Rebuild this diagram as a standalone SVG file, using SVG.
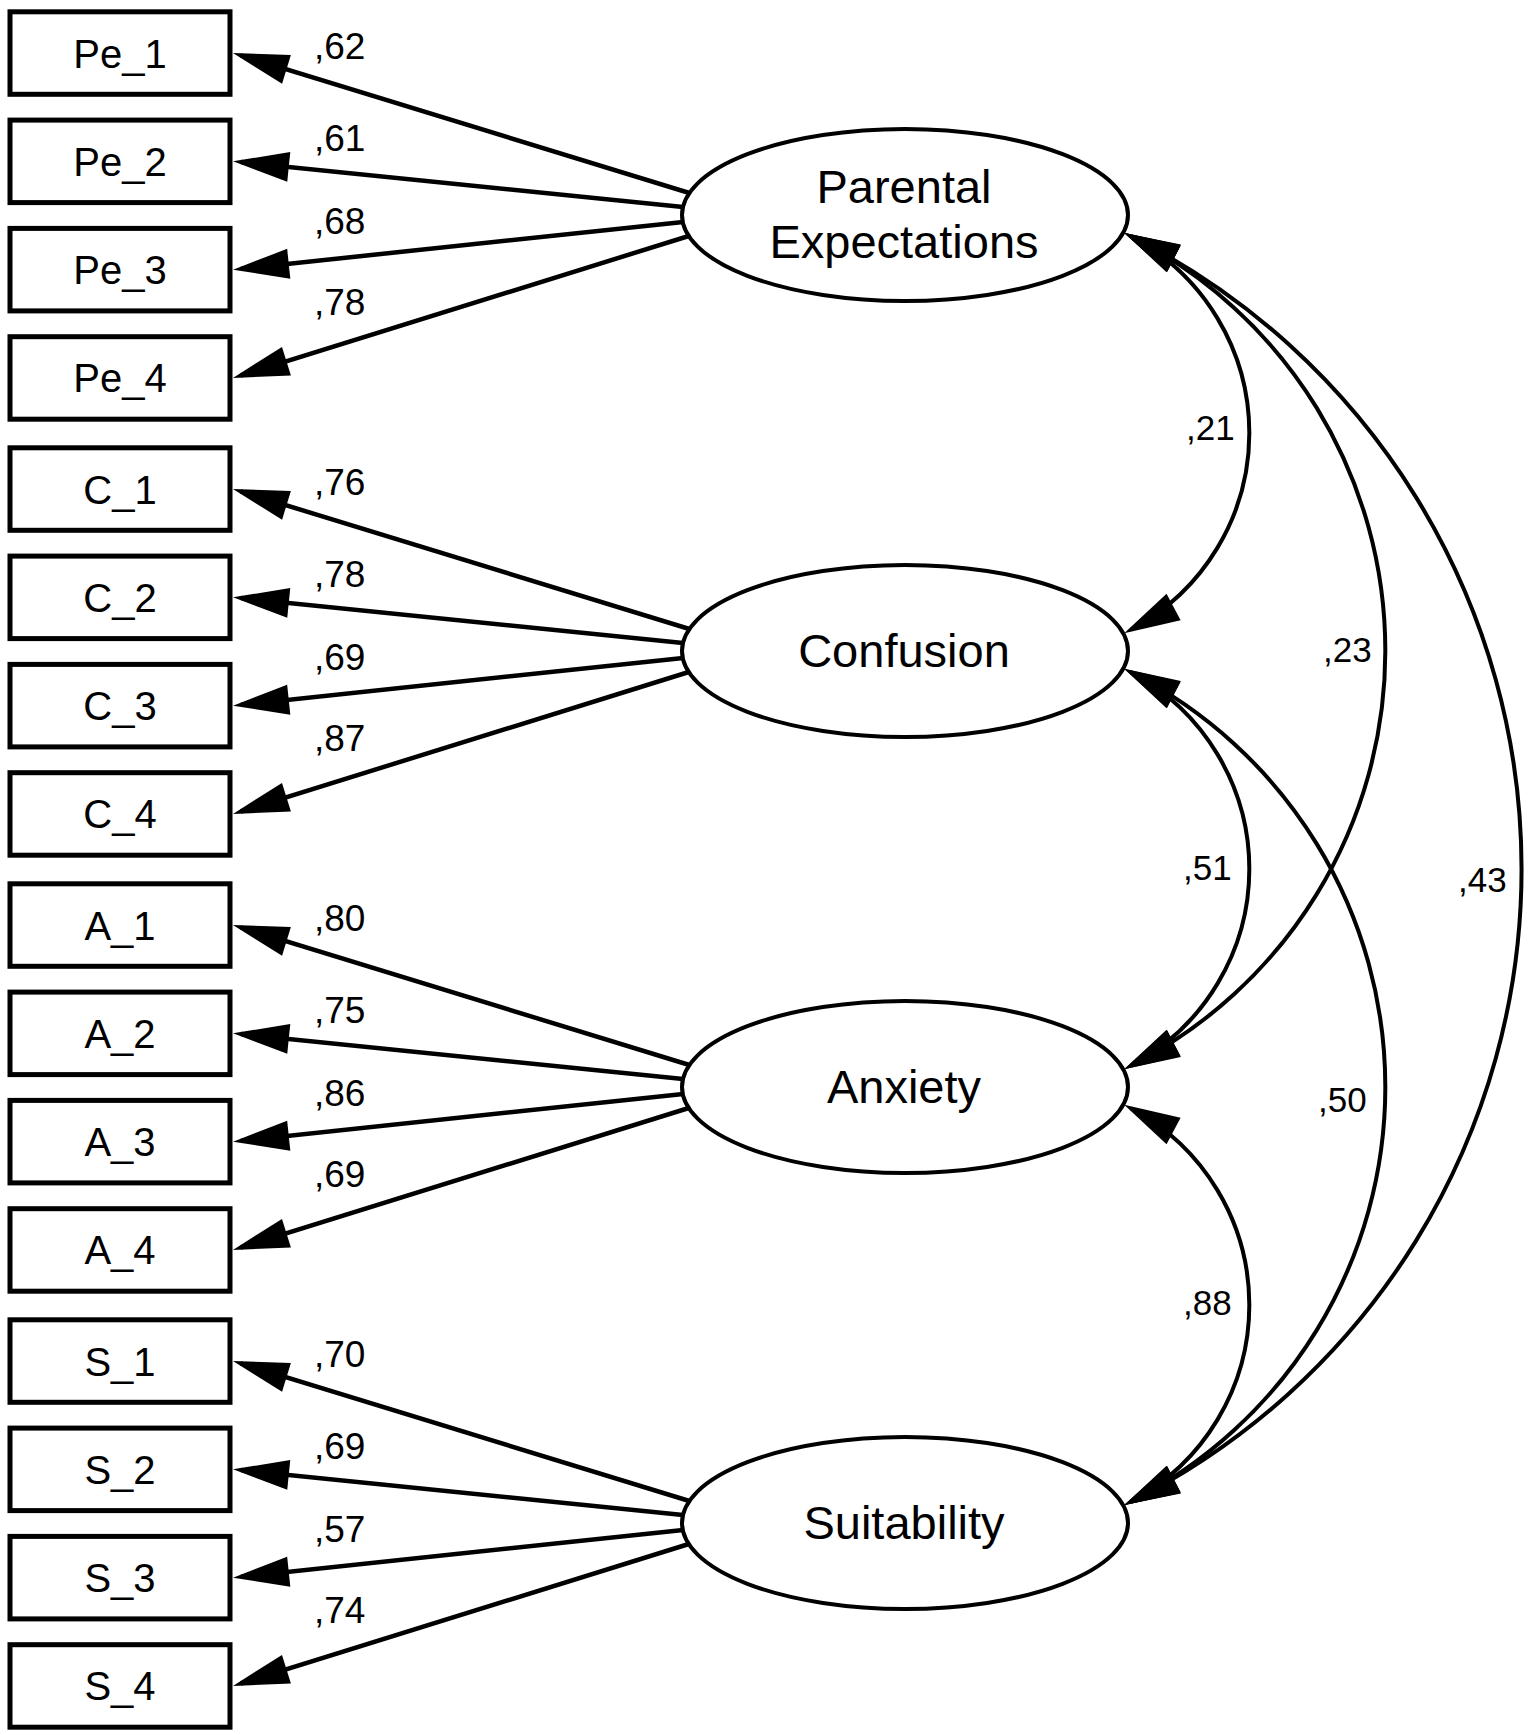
<svg xmlns="http://www.w3.org/2000/svg" width="1535" height="1735" viewBox="0 0 1535 1735">
<style>
  .box { fill:#fff; stroke:#000; stroke-width:5; }
  .lat { fill:#fff; stroke:#000; stroke-width:4; }
  text { font-family:"Liberation Sans", Arial, sans-serif; fill:#000; }
  .bl { font-size:40px; text-anchor:middle; }
  .ll { font-size:47px; text-anchor:middle; }
  .w { font-size:37px; }
  .c { font-size:35px; }
  #connectors path { fill:none; stroke:#000; }
  .ld { stroke-width:4.5; marker-end:url(#ah); }
  .cv { stroke-width:4; marker-start:url(#ah); marker-end:url(#ah); }
</style>
<defs>
  <marker id="ah" markerUnits="userSpaceOnUse" markerWidth="56" markerHeight="30" refX="48" refY="15" orient="auto-start-reverse" overflow="visible">
    <path d="M0,0 L56,15 L0,30 Z" fill="#000"/>
  </marker>
</defs>
<rect width="1535" height="1735" fill="#fff"/>
<g id="connectors">
  <path class="ld" d="M689.4,193 L240.6,55.3"/>
  <path class="ld" d="M683,207 L241,162.1"/>
  <path class="ld" d="M683.2,222 L241,268.8"/>
  <path class="ld" d="M688.8,236 L240.6,375.5"/>
  <path class="ld" d="M689.4,629 L240.6,491.3"/>
  <path class="ld" d="M683,643 L241,598.1"/>
  <path class="ld" d="M683.2,658 L241,704.8"/>
  <path class="ld" d="M688.8,672 L240.6,811.5"/>
  <path class="ld" d="M689.4,1065 L240.6,927.3"/>
  <path class="ld" d="M683,1079 L241,1034.1"/>
  <path class="ld" d="M683.2,1094 L241,1140.8"/>
  <path class="ld" d="M688.8,1108 L240.6,1247.5"/>
  <path class="ld" d="M689.4,1501 L240.6,1363.3"/>
  <path class="ld" d="M683,1515 L241,1470.1"/>
  <path class="ld" d="M683.2,1530 L241,1576.8"/>
  <path class="ld" d="M688.8,1544 L240.6,1683.5"/>
  <path class="cv" d="M1131.2,236.5 A222.5,222.5 0 0 1 1131.2,629.5"/>
  <path class="cv" d="M1131.2,672.5 A222.5,222.5 0 0 1 1131.2,1065.5"/>
  <path class="cv" d="M1131.2,1108.5 A222.5,222.5 0 0 1 1131.2,1501.5"/>
  <path class="cv" d="M1131.2,236.5 A465.1,465.1 0 0 1 1131.2,1065.5"/>
  <path class="cv" d="M1131.2,672.5 A465.1,465.1 0 0 1 1131.2,1501.5"/>
  <path class="cv" d="M1131.2,236.5 A707.6,707.6 0 0 1 1131.2,1501.5"/>
  <text class="w" x="314" y="59">,62</text>
  <text class="w" x="314" y="151">,61</text>
  <text class="w" x="314" y="234">,68</text>
  <text class="w" x="314" y="315">,78</text>
  <text class="w" x="314" y="495">,76</text>
  <text class="w" x="314" y="587">,78</text>
  <text class="w" x="314" y="670">,69</text>
  <text class="w" x="314" y="751">,87</text>
  <text class="w" x="314" y="931">,80</text>
  <text class="w" x="314" y="1023">,75</text>
  <text class="w" x="314" y="1106">,86</text>
  <text class="w" x="314" y="1187">,69</text>
  <text class="w" x="314" y="1367">,70</text>
  <text class="w" x="314" y="1459">,69</text>
  <text class="w" x="314" y="1542">,57</text>
  <text class="w" x="314" y="1623">,74</text>
  <text class="c" x="1186" y="440">,21</text>
  <text class="c" x="1183" y="880">,51</text>
  <text class="c" x="1183" y="1315">,88</text>
  <text class="c" x="1323" y="662">,23</text>
  <text class="c" x="1318" y="1112">,50</text>
  <text class="c" x="1458" y="892">,43</text>
</g>
<g id="Pe_1"><rect class="box" x="10" y="11.8" width="220" height="82.5"/><text class="bl" x="120" y="67.5">Pe_1</text></g>
<g id="Pe_2"><rect class="box" x="10" y="120.1" width="220" height="82.5"/><text class="bl" x="120" y="175.8">Pe_2</text></g>
<g id="Pe_3"><rect class="box" x="10" y="228.4" width="220" height="82.5"/><text class="bl" x="120" y="284.1">Pe_3</text></g>
<g id="Pe_4"><rect class="box" x="10" y="336.7" width="220" height="82.5"/><text class="bl" x="120" y="392.4">Pe_4</text></g>
<g id="C_1"><rect class="box" x="10" y="447.8" width="220" height="82.5"/><text class="bl" x="120" y="503.5">C_1</text></g>
<g id="C_2"><rect class="box" x="10" y="556.1" width="220" height="82.5"/><text class="bl" x="120" y="611.8">C_2</text></g>
<g id="C_3"><rect class="box" x="10" y="664.4" width="220" height="82.5"/><text class="bl" x="120" y="720.1">C_3</text></g>
<g id="C_4"><rect class="box" x="10" y="772.7" width="220" height="82.5"/><text class="bl" x="120" y="828.4">C_4</text></g>
<g id="A_1"><rect class="box" x="10" y="883.8" width="220" height="82.5"/><text class="bl" x="120" y="939.5">A_1</text></g>
<g id="A_2"><rect class="box" x="10" y="992.1" width="220" height="82.5"/><text class="bl" x="120" y="1047.8">A_2</text></g>
<g id="A_3"><rect class="box" x="10" y="1100.4" width="220" height="82.5"/><text class="bl" x="120" y="1156.1">A_3</text></g>
<g id="A_4"><rect class="box" x="10" y="1208.7" width="220" height="82.5"/><text class="bl" x="120" y="1264.4">A_4</text></g>
<g id="S_1"><rect class="box" x="10" y="1319.8" width="220" height="82.5"/><text class="bl" x="120" y="1375.5">S_1</text></g>
<g id="S_2"><rect class="box" x="10" y="1428.1" width="220" height="82.5"/><text class="bl" x="120" y="1483.8">S_2</text></g>
<g id="S_3"><rect class="box" x="10" y="1536.4" width="220" height="82.5"/><text class="bl" x="120" y="1592.1">S_3</text></g>
<g id="S_4"><rect class="box" x="10" y="1644.7" width="220" height="82.5"/><text class="bl" x="120" y="1700.4">S_4</text></g>
<g id="ParentalExpectations"><ellipse class="lat" cx="905" cy="215" rx="223" ry="86"/><text class="ll" x="904" y="203">Parental</text><text class="ll" x="904" y="258">Expectations</text></g>
<g id="Confusion"><ellipse class="lat" cx="905" cy="651" rx="223" ry="86"/><text class="ll" x="904" y="667">Confusion</text></g>
<g id="Anxiety"><ellipse class="lat" cx="905" cy="1087" rx="223" ry="86"/><text class="ll" x="904" y="1103">Anxiety</text></g>
<g id="Suitability"><ellipse class="lat" cx="905" cy="1523" rx="223" ry="86"/><text class="ll" x="904" y="1539">Suitability</text></g>
</svg>
